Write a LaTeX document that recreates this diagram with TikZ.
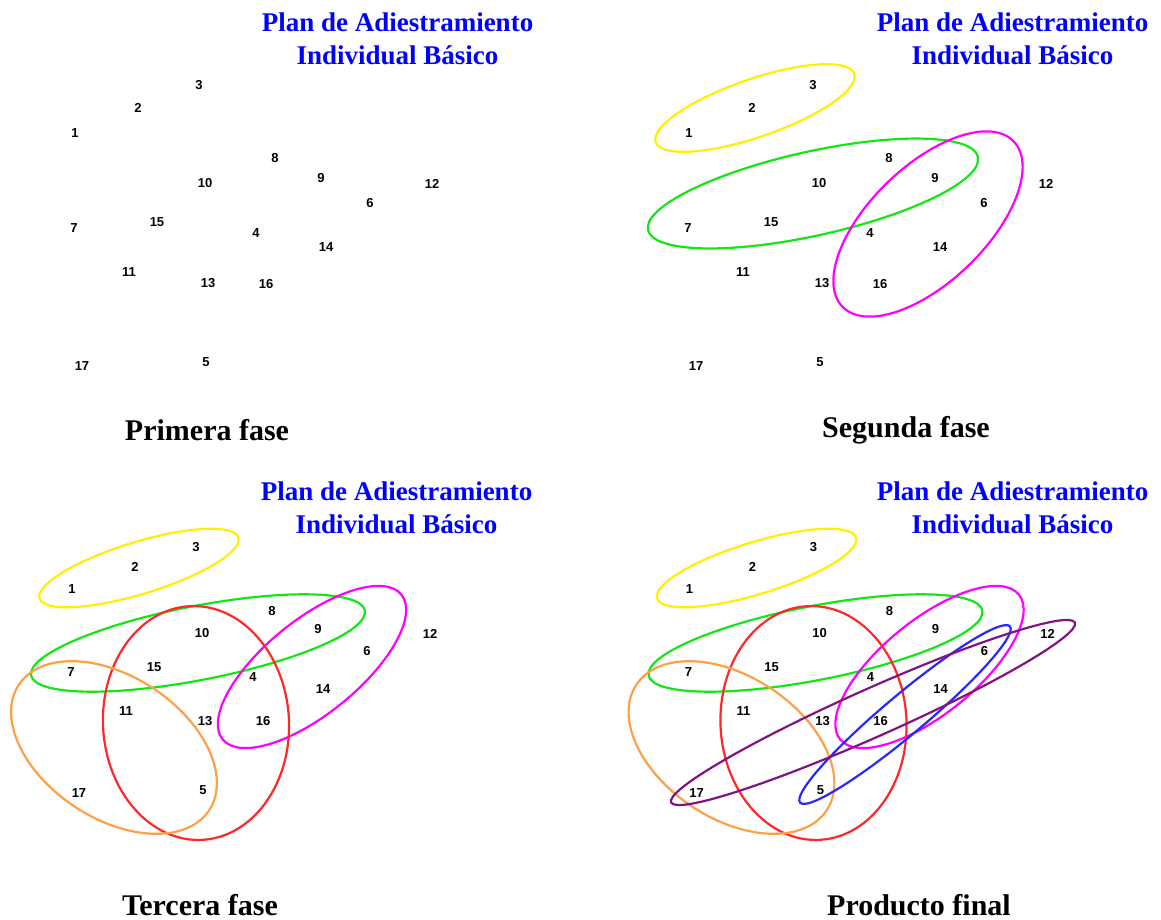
\documentclass[tikz,border=0pt]{standalone}
\usepackage{fontspec}
\setmainfont{Liberation Serif}
\newfontfamily\numfont{Liberation Sans}
\usetikzlibrary{shapes.geometric}
\definecolor{cyellow}{RGB}{255,240,0}
\definecolor{cgreen}{RGB}{20,230,20}
\definecolor{cmag}{RGB}{255,0,255}
\definecolor{cred}{RGB}{255,40,40}
\definecolor{corange}{RGB}{255,160,70}
\definecolor{cblue}{RGB}{40,40,255}
\definecolor{cpurple}{RGB}{130,20,130}
\definecolor{ctitle}{RGB}{0,0,255}
\tikzset{
  num/.style={font=\numfont\bfseries\fontsize{13}{15}\selectfont, inner sep=0pt},
  ptitle/.style={font=\bfseries\fontsize{27}{33}\selectfont, text=ctitle, align=center, inner sep=0pt},
  pcaption/.style={font=\bfseries\fontsize{30}{34}\selectfont, inner sep=0pt},
  ring/.style={draw=#1, ellipse, line width=2.2pt, inner sep=0pt, outer sep=0pt},
}
\newcommand\topnums{%
  \node[num] (n1) at (75,133) {1};
  \node[num] (n2) at (138,108) {2};
  \node[num] (n3) at (199,85) {3};
  \node[num] (n8) at (275,158) {8};
  \node[num] (n10) at (205,183) {10};
  \node[num] (n9) at (321,178) {9};
  \node[num] (n12) at (432,184) {12};
  \node[num] (n6) at (370,203) {6};
  \node[num] (n7) at (74,228) {7};
  \node[num] (n15) at (157,222) {15};
  \node[num] (n4) at (256,233) {4};
  \node[num] (n14) at (326,247) {14};
  \node[num] (n11) at (129,272) {11};
  \node[num] (n13) at (208,283) {13};
  \node[num] (n16) at (266,284) {16};
  \node[num] (n17) at (82,366) {17};
  \node[num] (n5) at (206,362) {5};
}
\newcommand\bottomnums{%
  \node[num] (n1) at (72,589) {1};
  \node[num] (n2) at (135,567) {2};
  \node[num] (n3) at (196,547) {3};
  \node[num] (n8) at (272,611) {8};
  \node[num] (n10) at (202,633) {10};
  \node[num] (n9) at (318,629) {9};
  \node[num] (n12) at (430,634) {12};
  \node[num] (n6) at (367,651) {6};
  \node[num] (n7) at (71,672) {7};
  \node[num] (n15) at (154,667) {15};
  \node[num] (n4) at (253,677) {4};
  \node[num] (n14) at (323,689) {14};
  \node[num] (n11) at (126,711) {11};
  \node[num] (n13) at (205,721) {13};
  \node[num] (n16) at (263,721) {16};
  \node[num] (n17) at (79,793) {17};
  \node[num] (n5) at (203,790) {5};
}
\newcommand\bottomrings{%
  \node[ring=cyellow, minimum width=208pt, minimum height=52pt, rotate=17] (yellow) at (139,568) {};
  \node[ring=cgreen, minimum width=340pt, minimum height=74pt, rotate=11] (green) at (198,643) {};
  \node[ring=cmag, minimum width=230pt, minimum height=94pt, rotate=39] (magenta) at (312,667) {};
  \node[ring=cred, minimum width=186pt, minimum height=234pt, rotate=3] (red) at (196,723) {};
  \node[ring=corange, minimum width=228pt, minimum height=142pt, rotate=-33.4] (orange) at (114,747.5) {};
}
\begin{document}
\begin{tikzpicture}[x=1pt,y=-1pt]
\path[use as bounding box] (0,0) rectangle (1161,920);
% Panel 1
\begin{scope}[name prefix=pa-]
  \topnums
  \node[ptitle] (title) at (397.5,39) {Plan de Adiestramiento\\Individual Básico};
  \node[pcaption] (caption) at (207,430) {Primera fase};
\end{scope}
% Panel 2
\begin{scope}[name prefix=pb-]
  \begin{scope}[xshift=614pt]
    \topnums
  \end{scope}
  \node[ring=cyellow, minimum width=210pt, minimum height=58pt, rotate=19] (yellow) at (755,108) {};
  \node[ring=cgreen, minimum width=338pt, minimum height=84pt, rotate=12.5] (green) at (813,193.5) {};
  \node[ring=cmag, minimum width=238pt, minimum height=116pt, rotate=44] (magenta) at (928,224) {};
  \node[ptitle] (title) at (1012.5,39) {Plan de Adiestramiento\\Individual Básico};
  \node[pcaption] (caption) at (906,430) {Segunda fase};
\end{scope}
% Panel 3
\begin{scope}[name prefix=pc-]
  \bottomnums
  \bottomrings
  \node[ptitle] (title) at (396.5,508) {Plan de Adiestramiento\\Individual Básico};
  \node[pcaption] (caption) at (200,905) {Tercera fase};
\end{scope}
% Panel 4
\begin{scope}[name prefix=pd-]
  \begin{scope}[xshift=617.5pt]
    \bottomnums
    \bottomrings
  \end{scope}
  \node[ring=cblue, minimum width=274pt, minimum height=40pt, rotate=40] (blue) at (905,714.5) {};
  \node[ring=cpurple, minimum width=442pt, minimum height=48pt, rotate=24] (purple) at (873,712.5) {};
  \node[ptitle] (title) at (1012.5,508) {Plan de Adiestramiento\\Individual Básico};
  \node[pcaption] (caption) at (919,905) {Producto final};
\end{scope}
\end{tikzpicture}
\end{document}
